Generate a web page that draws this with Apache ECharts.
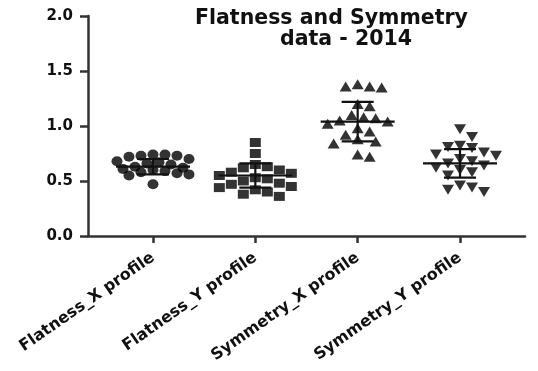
<!DOCTYPE html>
<html>
<head>
<meta charset="utf-8">
<script src="https://cdn.jsdelivr.net/npm/echarts@6/dist/echarts.min.js"></script>
<style>
  html, body { margin: 0; padding: 0; background: #fff; }
  #chart { width: 538px; height: 371px; }
</style>
</head>
<body>
<div id="chart"></div>
<script>
// Group names along the x axis
const categories = ['Flatness_X profile', 'Flatness_Y profile', 'Symmetry_X profile', 'Symmetry_Y profile'];

// Individual measurements per group
const flatnessX = [0.74, 0.74, 0.73, 0.73, 0.72, 0.70, 0.68, 0.67, 0.66, 0.65,
                   0.63, 0.62, 0.61, 0.60, 0.59, 0.58, 0.57, 0.56, 0.55, 0.47];
const flatnessY = [0.85, 0.75, 0.65, 0.63, 0.62, 0.60, 0.58, 0.57, 0.55, 0.53,
                   0.52, 0.50, 0.48, 0.47, 0.45, 0.44, 0.42, 0.40, 0.38, 0.36];
const symmetryX = [1.38, 1.36, 1.36, 1.35, 1.20, 1.18, 1.10, 1.08, 1.07, 1.05,
                   1.04, 1.02, 0.98, 0.95, 0.92, 0.88, 0.86, 0.84, 0.74, 0.72];
const symmetryY = [0.97, 0.90, 0.82, 0.81, 0.80, 0.76, 0.74, 0.73, 0.70, 0.68,
                   0.66, 0.64, 0.62, 0.60, 0.58, 0.55, 0.46, 0.44, 0.42, 0.40];

// Mean and standard deviation per group
const groupMeans = [0.63, 0.55, 1.04, 0.66];
const groupSD = [0.07, 0.11, 0.18, 0.13];

// Y axis ticks
const yTicks = [0.0, 0.5, 1.0, 1.5, 2.0];

const groups = [flatnessX, flatnessY, symmetryX, symmetryY];
const symbols = ['circle', 'rect', 'triangle', 'triangle'];
const rotations = [0, 0, 0, 180];
const sizes = [[11, 10], [11, 9], [12, 10], [12, 10]];

const chartEl = document.getElementById('chart');
const chart = echarts.init(chartEl, null, { renderer: 'canvas' });

const gridLeft = 88, gridRight = 13, gridTop = 16, gridBottom = 135;
const xMin = 0.365, xMax = 4.635;
const xPx = (538 - gridLeft - gridRight) / (xMax - xMin);
const yPx = (371 - gridTop - gridBottom) / (yTicks[yTicks.length - 1] - yTicks[0]);

// Simple beeswarm: spread near-equal values sideways so markers don't pile up
function swarm(values, center) {
  const placed = [];
  const minDist = 11, step = 6, maxOff = 36;
  return values.slice().sort((a, b) => b - a).map(v => {
    const y = v * yPx;
    let best = 0, bestGap = -1;
    for (let i = 0; ; i++) {
      const off = i === 0 ? 0 : (i % 2 ? 1 : -1) * Math.ceil(i / 2) * step;
      if (Math.abs(off) > maxOff) break;
      const gap = placed.length ? Math.min(...placed.map(p => Math.hypot(p[0] - off, p[1] - y))) : Infinity;
      if (gap >= minDist) { best = off; bestGap = gap; break; }
      if (gap > bestGap) { best = off; bestGap = gap; }
    }
    placed.push([best, y]);
    return [center + best / xPx, v];
  });
}

const scatterSeries = groups.map((vals, i) => ({
  type: 'scatter',
  name: categories[i],
  data: swarm(vals, i + 1),
  symbol: symbols[i],
  symbolRotate: rotations[i],
  symbolSize: sizes[i],
  itemStyle: { color: '#000' },
  z: 2
}));

const statSeries = {
  type: 'custom',
  data: groupMeans.map((m, i) => [i + 1, m, groupSD[i]]),
  renderItem: function (params, api) {
    const x = api.value(0), m = api.value(1), sd = api.value(2);
    const pm = api.coord([x, m]);
    const pt = api.coord([x, m + sd]);
    const pb = api.coord([x, m - sd]);
    const halfMean = 37, halfCap = 16;
    const style = { stroke: '#111', lineWidth: 2.2 };
    const line = (x1, y1, x2, y2) => ({ type: 'line', shape: { x1, y1, x2, y2 }, style });
    return {
      type: 'group',
      children: [
        line(pm[0] - halfMean, pm[1], pm[0] + halfMean, pm[1]),
        line(pm[0], pt[1], pm[0], pb[1]),
        line(pm[0] - halfCap, pt[1], pm[0] + halfCap, pt[1]),
        line(pm[0] - halfCap, pb[1], pm[0] + halfCap, pb[1])
      ]
    };
  },
  z: 3
};

const font = 'DejaVu Sans';
chart.setOption({
  animation: false,
  backgroundColor: '#fff',
  graphic: [
    { type: 'text', left: 195, top: 8, style: { text: 'Flatness and Symmetry', font: 'bold 20.5px "DejaVu Sans"', fill: '#111' } },
    { type: 'text', left: 280, top: 29, style: { text: 'data - 2014', font: 'bold 20.5px "DejaVu Sans"', fill: '#111' } }
  ],
  grid: { left: gridLeft, right: gridRight, top: gridTop, bottom: gridBottom },
  xAxis: {
    type: 'value',
    min: xMin,
    max: xMax,
    axisLine: { show: true, lineStyle: { color: '#333', width: 2.5 } },
    axisTick: { show: true, customValues: [1, 2, 3, 4], length: 7, lineStyle: { color: '#333', width: 2.5 } },
    axisLabel: {
      customValues: [1, 2, 3, 4],
      formatter: v => categories[Math.round(v) - 1],
      rotate: 35,
      margin: 20,
      fontFamily: font,
      fontWeight: 'bold',
      fontSize: 16,
      color: '#111'
    },
    splitLine: { show: false }
  },
  yAxis: {
    type: 'value',
    min: yTicks[0],
    max: yTicks[yTicks.length - 1],
    interval: 0.5,
    axisLine: { show: true, lineStyle: { color: '#333', width: 2.5 } },
    axisTick: { show: true, length: 8, lineStyle: { color: '#333', width: 2.5 } },
    axisLabel: {
      formatter: v => v.toFixed(1),
      margin: 15,
      fontFamily: font,
      fontWeight: 'bold',
      fontSize: 15,
      color: '#111'
    },
    splitLine: { show: false }
  },
  series: [...scatterSeries, statSeries]
});
</script>
</body>
</html>
